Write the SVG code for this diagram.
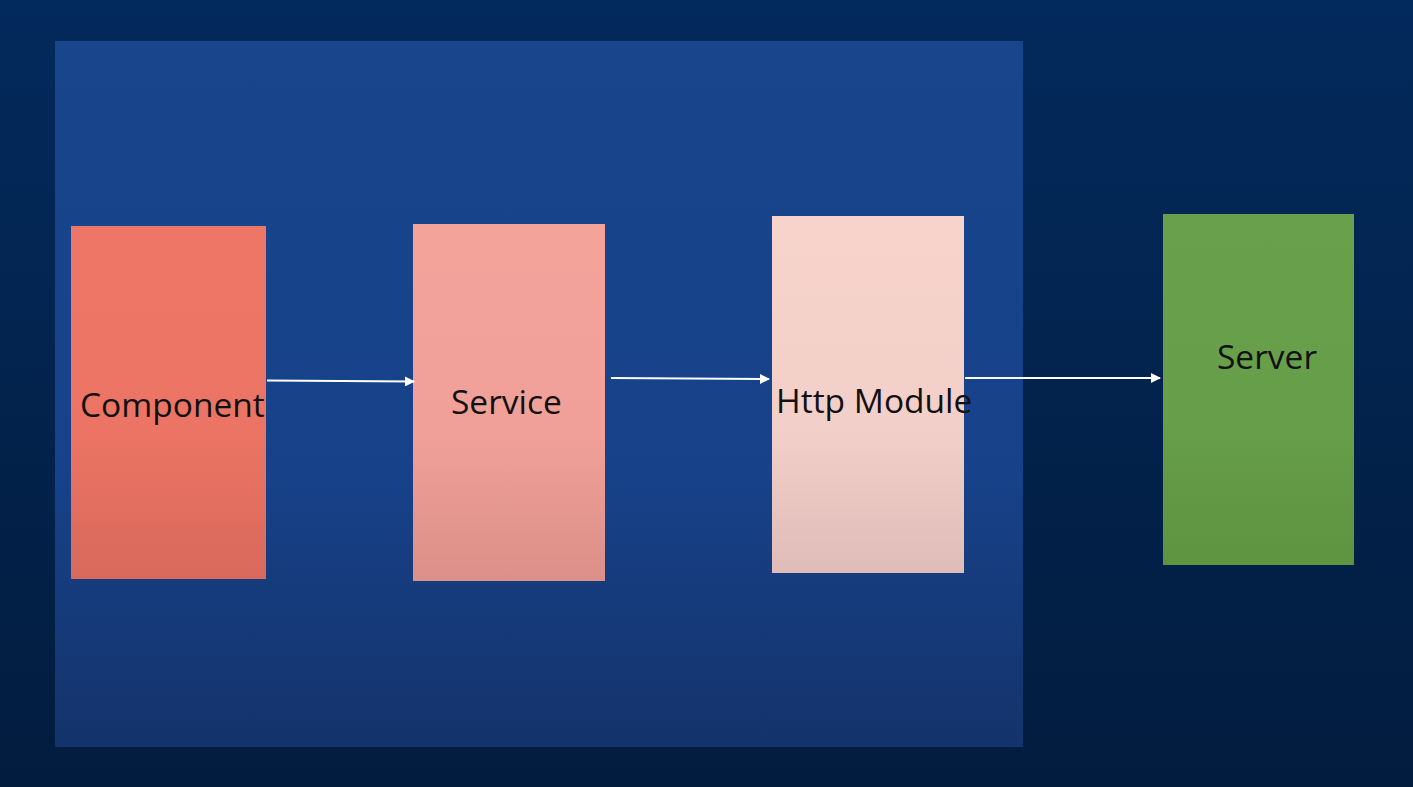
<svg xmlns="http://www.w3.org/2000/svg" width="1413" height="787" viewBox="0 0 1413 787">
  <defs>
    <linearGradient id="bg" x1="0" y1="0" x2="0" y2="1">
      <stop offset="0" stop-color="#032a5c"/>
      <stop offset="1" stop-color="#021c3e"/>
    </linearGradient>
    <linearGradient id="panel" x1="0" y1="0" x2="0" y2="1">
      <stop offset="0" stop-color="#18458b"/>
      <stop offset="0.6" stop-color="#17428a"/>
      <stop offset="1" stop-color="#14336b"/>
    </linearGradient>
    <linearGradient id="g1" x1="0" y1="0" x2="0" y2="1">
      <stop offset="0" stop-color="#ee7666"/>
      <stop offset="0.6" stop-color="#eb7464"/>
      <stop offset="1" stop-color="#d8695b"/>
    </linearGradient>
    <linearGradient id="g2" x1="0" y1="0" x2="0" y2="1">
      <stop offset="0" stop-color="#f3a39a"/>
      <stop offset="0.6" stop-color="#f0a098"/>
      <stop offset="1" stop-color="#da8f88"/>
    </linearGradient>
    <linearGradient id="g3" x1="0" y1="0" x2="0" y2="1">
      <stop offset="0" stop-color="#f7d3cc"/>
      <stop offset="0.6" stop-color="#f3cfc9"/>
      <stop offset="1" stop-color="#dfbcb8"/>
    </linearGradient>
    <linearGradient id="g4" x1="0" y1="0" x2="0" y2="1">
      <stop offset="0" stop-color="#69a04c"/>
      <stop offset="0.6" stop-color="#679e4a"/>
      <stop offset="1" stop-color="#5e933f"/>
    </linearGradient>
    <marker id="arrow" viewBox="0 0 10 10" refX="9" refY="5" markerWidth="5" markerHeight="5" orient="auto" markerUnits="strokeWidth">
      <path d="M0,0 L10,5 L0,10 z" fill="#ffffff"/>
    </marker>
    <style>
      .lbl { font-family: "Open Sans", "Noto Sans", "DejaVu Sans", sans-serif; font-size: 33.5px; fill: #111111; }
      .conn { stroke: #ffffff; stroke-width: 2; fill: none; marker-end: url(#arrow); }
    </style>
  </defs>
  <rect x="0" y="0" width="1413" height="787" fill="url(#bg)"/>
  <rect id="panel-bg" x="55" y="41" width="968" height="706" fill="url(#panel)"/>

  <g id="component">
    <rect x="71" y="226" width="195" height="353" fill="url(#g1)"/>
    <text class="lbl" x="80" y="417">Component</text>
  </g>
  <g id="service">
    <rect x="413" y="224" width="192" height="357" fill="url(#g2)"/>
    <text class="lbl" x="451" y="414">Service</text>
  </g>
  <g id="http-module">
    <rect x="772" y="216" width="192" height="357" fill="url(#g3)"/>
    <text class="lbl" x="776" y="413">Http Module</text>
  </g>
  <g id="server">
    <rect x="1163" y="214" width="191" height="351" fill="url(#g4)"/>
    <text class="lbl" x="1217" y="369">Server</text>
  </g>

  <g id="connectors">
    <line class="conn" x1="267" y1="380.5" x2="414" y2="381.5"/>
    <line class="conn" x1="611" y1="378" x2="769" y2="379"/>
    <line class="conn" x1="965" y1="378" x2="1160" y2="378"/>
  </g>
</svg>
